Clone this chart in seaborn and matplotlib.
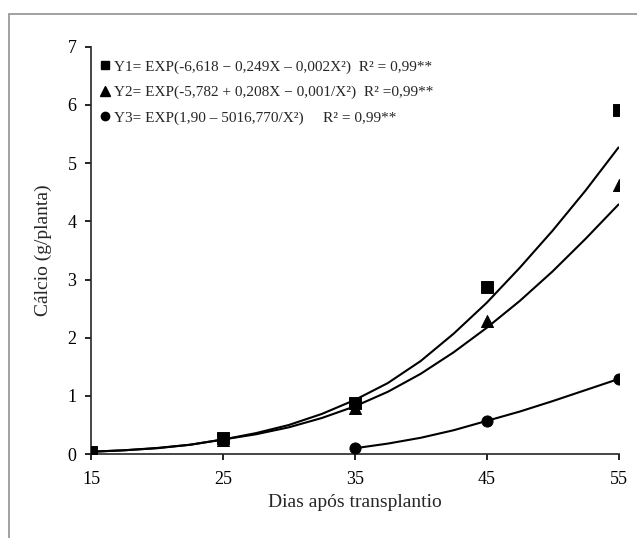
import numpy as np
import pandas as pd
import seaborn as sns
import matplotlib.pyplot as plt
from matplotlib.lines import Line2D
from matplotlib.patches import Rectangle

# observed data (days after transplanting)
dias = [15, 25, 35, 45, 55]
y1_obs = [0.03, 0.27, 0.87, 2.88, 5.91]
y2_obs = [0.02, 0.25, 0.79, 2.28, 4.62]
dias_y3 = [35, 45, 55]
y3_obs = [0.10, 0.57, 1.29]

# fitted curves, every 2.5 days
dias_fit = [15, 17.5, 20, 22.5, 25, 27.5, 30, 32.5, 35, 37.5, 40, 42.5, 45, 47.5, 50, 52.5, 55]
y1_fit = [0.04, 0.065, 0.105, 0.16, 0.25, 0.36, 0.50, 0.69, 0.93, 1.22, 1.60, 2.07, 2.60, 3.20, 3.84, 4.53, 5.27]
y2_fit = [0.04, 0.065, 0.10, 0.16, 0.25, 0.34, 0.46, 0.62, 0.82, 1.07, 1.38, 1.75, 2.17, 2.63, 3.14, 3.70, 4.29]
dias_fit_y3 = [35, 37.5, 40, 42.5, 45, 47.5, 50, 52.5, 55]
y3_fit = [0.10, 0.18, 0.28, 0.41, 0.57, 0.73, 0.91, 1.10, 1.29]

labels = [
    "Y1= EXP(-6,618 \u2212 0,249X \u2013 0,002X\u00b2)  R\u00b2 = 0,99**",
    "Y2= EXP(-5,782 + 0,208X \u2212 0,001/X\u00b2)  R\u00b2 =0,99**",
    "Y3= EXP(1,90 \u2013 5016,770/X\u00b2)     R\u00b2 = 0,99**",
]

sns.set_style("ticks")
plt.rcParams['font.family'] = ['Liberation Serif', 'DejaVu Serif']

fig = plt.figure(figsize=(6.37, 5.38), dpi=100)
ax = fig.add_axes([0.143, 0.156, 0.828, 0.757])

# outer frame of the original figure (left and top edges visible)
fig.patches.append(Rectangle((9 / 637, -0.05), 1.2, 1 - 14 / 538 + 0.05,
                             transform=fig.transFigure, fill=False,
                             edgecolor='#9a9a9a', linewidth=1.3))

# fitted curves
sns.lineplot(x=dias_fit, y=y1_fit, color='black', linewidth=1.5, ax=ax)
sns.lineplot(x=dias_fit, y=y2_fit, color='black', linewidth=1.5, ax=ax)
sns.lineplot(x=dias_fit_y3, y=y3_fit, color='black', linewidth=1.5, ax=ax)

# observed points
sns.scatterplot(x=dias, y=y2_obs, marker='^', s=75, color='black', edgecolor='black', ax=ax, zorder=3)
sns.scatterplot(x=dias_y3, y=y3_obs, marker='o', s=65, color='black', edgecolor='black', ax=ax, zorder=3)
sns.scatterplot(x=dias, y=y1_obs, marker='s', s=70, color='black', edgecolor='black', ax=ax, zorder=3)

ax.set_xlim(15, 55)
ax.set_ylim(0, 7)
ax.set_xticks([15, 25, 35, 45, 55])
ax.set_yticks(range(0, 8))
ax.spines['top'].set_visible(False)
ax.spines['right'].set_visible(False)
for sp in ['left', 'bottom']:
    ax.spines[sp].set_linewidth(1.2)
ax.tick_params(direction='out', length=4.5, width=1.2, labelsize=13, colors='black')
ax.tick_params(axis='x', pad=8)
ax.tick_params(axis='y', pad=6)
ax.set_xlabel('Dias ap\u00f3s transplantio', fontsize=14, labelpad=4)
ax.set_ylabel('C\u00e1lcio (g/planta)', fontsize=14, labelpad=11)

handles = [
    Line2D([], [], marker='s', color='black', linestyle='none', markersize=6),
    Line2D([], [], marker='^', color='black', linestyle='none', markersize=7),
    Line2D([], [], marker='o', color='black', linestyle='none', markersize=6),
]
ax.legend(handles, labels, loc='upper left', bbox_to_anchor=(0.0, 0.99),
          frameon=False, fontsize=11, handlelength=0.6, handletextpad=0.3,
          labelspacing=0.75, borderaxespad=0.2)

fig.savefig('out.png', dpi=100)
